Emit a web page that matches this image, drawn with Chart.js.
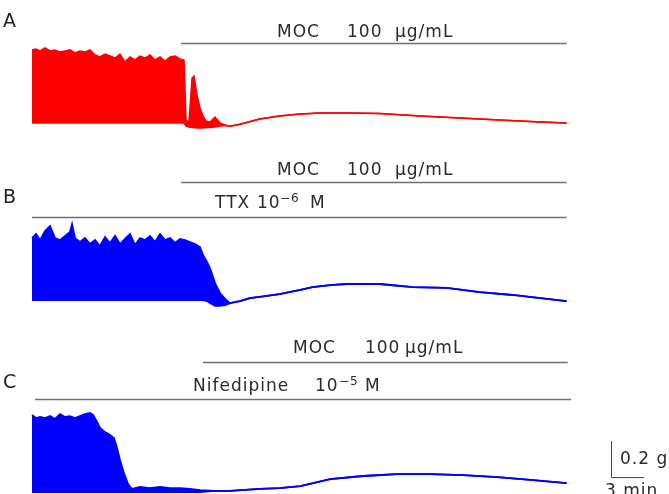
<!DOCTYPE html>
<html>
<head>
<meta charset="utf-8">
<script src="https://cdn.jsdelivr.net/npm/chart.js@4/dist/chart.umd.min.js"></script>
<style>
  body { margin: 0; background: #fff; }
  #wrap { position: relative; width: 669px; height: 494px; overflow: hidden; }
  #wrap canvas { position: absolute; left: 0; }
</style>
</head>
<body>
<div id="wrap">
  <canvas id="panelA" width="669" height="140" style="top:0px"></canvas>
  <canvas id="panelB" width="669" height="180" style="top:140px"></canvas>
  <canvas id="panelC" width="669" height="174" style="top:320px"></canvas>
</div>
<script>
// time in minutes, tension in g above the resting baseline

// A: MOC alone
const aTime = [0, 0.36, 0.73, 1.18, 1.64, 2.09, 2.55, 3.0, 3.45, 3.91, 4.36, 4.82, 5.27, 5.73, 6.18, 6.64, 7.09, 7.55, 8.0, 8.45,
  8.91, 9.36, 9.82, 10.27, 10.73, 11.18, 11.64, 12.09, 12.55, 13.0, 13.45, 13.82, 14.0, 14.27, 14.55, 14.73, 15.0, 15.27, 15.55, 15.82,
  16.18, 16.64, 17.09, 17.55, 18.0, 18.9, 20.7, 22.5, 24.4, 26.2, 28.9, 31.6, 35.3, 38.9, 42.5, 46.2, 48.6];
const aUpper = [0.406, 0.411, 0.400, 0.417, 0.400, 0.406, 0.394, 0.400, 0.406, 0.389, 0.400, 0.394, 0.406, 0.378, 0.367, 0.383, 0.372, 0.361, 0.383, 0.339,
  0.367, 0.350, 0.372, 0.361, 0.378, 0.350, 0.367, 0.344, 0.367, 0.372, 0.356, 0.350, 0.017, 0.006, 0.250, 0.261, 0.156, 0.083, 0.039, 0.011,
  0.006, 0.033, 0, -0.011, -0.017, -0.006, 0.022, 0.039, 0.050, 0.056, 0.056, 0.053, 0.039, 0.028, 0.017, 0.006, 0];
const aLower = [0, 0, 0, 0, 0, 0, 0, 0, 0, 0, 0, 0, 0, 0, 0, 0, 0, 0, 0, 0,
  0, 0, 0, 0, 0, 0, 0, 0, 0, 0, 0, 0, -0.017, -0.022, -0.025, -0.025, -0.028, -0.028, -0.028, -0.025,
  -0.025, -0.022, -0.017, -0.014, -0.017, -0.006, 0.022, 0.039, 0.050, 0.056, 0.056, 0.053, 0.039, 0.028, 0.017, 0.006, 0];

// B: TTX 10^-6 M, then MOC
const bTime = [0, 0.36, 0.73, 1.18, 1.64, 2.09, 2.55, 3.0, 3.45, 3.64, 3.91, 4.36, 4.82, 5.27, 5.73, 6.18, 6.64, 7.09, 7.55, 8.0,
  8.45, 8.91, 9.36, 9.82, 10.27, 10.73, 11.18, 11.64, 12.09, 12.55, 13.0, 13.45, 13.91, 14.36, 14.82, 15.27, 15.55, 15.91, 16.18, 16.64,
  17.09, 17.55, 18.0, 18.9, 19.8, 21.2, 22.5, 24.4, 25.5, 27.1, 28.6, 31.6, 34.6, 37.7, 40.7, 43.7, 46.8, 48.6];
const bUpper = [0.344, 0.367, 0.333, 0.383, 0.411, 0.344, 0.333, 0.356, 0.378, 0.422, 0.344, 0.322, 0.344, 0.311, 0.333, 0.300, 0.350, 0.317, 0.356, 0.311,
  0.339, 0.367, 0.306, 0.344, 0.333, 0.356, 0.322, 0.367, 0.333, 0.344, 0.317, 0.339, 0.333, 0.322, 0.311, 0.294, 0.250, 0.211, 0.178, 0.094,
  0.039, 0.006, -0.017, -0.006, 0.011, 0.022, 0.033, 0.056, 0.072, 0.083, 0.089, 0.089, 0.072, 0.067, 0.044, 0.028, 0.006, -0.006];
const bLower = [0, 0, 0, 0, 0, 0, 0, 0, 0, 0, 0, 0, 0, 0, 0, 0, 0, 0, 0, 0,
  0, 0, 0, 0, 0, 0, 0, 0, 0, 0, 0, 0, 0, 0, 0, 0, 0, -0.006, -0.017, -0.033,
  -0.033, -0.028, -0.017, -0.006, 0.011, 0.022, 0.033, 0.056, 0.072, 0.083, 0.089, 0.089, 0.072, 0.067, 0.044, 0.028, 0.006, -0.006];

// C: nifedipine 10^-5 M, then MOC
const cTime = [0, 0.36, 0.73, 1.18, 1.64, 2.09, 2.55, 3.0, 3.45, 3.91, 4.36, 4.82, 5.27, 5.55, 5.91, 6.18, 6.64, 7.09, 7.45, 7.73,
  8.0, 8.36, 8.73, 9.09, 9.82, 10.73, 11.64, 12.55, 13.45, 14.36, 15.27, 16.6, 18.0, 20.7, 22.5, 24.4, 27.1, 30.1, 33.2, 36.2,
  39.2, 42.3, 45.3, 48.6];
const cUpper = [0.428, 0.411, 0.417, 0.411, 0.422, 0.406, 0.433, 0.417, 0.422, 0.411, 0.422, 0.433, 0.439, 0.428, 0.389, 0.356, 0.333, 0.317, 0.300, 0.244,
  0.178, 0.106, 0.044, 0.017, 0.028, 0.022, 0.028, 0.022, 0.022, 0.017, 0.011, 0.006, 0.006, 0.017, 0.022, 0.033, 0.072, 0.089, 0.100, 0.100,
  0.094, 0.083, 0.067, 0.050];
const cLower = [0, 0, 0, 0, 0, 0, 0, 0, 0, 0, 0, 0, 0, 0, 0, 0, 0, 0, 0, 0,
  0, 0, 0, 0, 0, 0, 0, 0, 0, 0, 0, 0.006, 0.006, 0.017, 0.022, 0.033, 0.072, 0.089, 0.100, 0.100,
  0.094, 0.083, 0.067, 0.050];

const X_MIN = -2.91, X_MAX = 57.91;
const TEXT_COLOR = '#2a2a2a';
const BAR_COLOR = '#707070';

const panels = [
  {
    canvas: 'panelA', color: '#ff0000', lineWidth: 1.5, yMin: -0.094, yMax: 0.683,
    time: aTime, upper: aUpper, lower: aLower,
    label: { text: 'A', t: -2.64, y: 0.533 },
    bars: [{ t0: 13.55, t1: 48.6, y: 0.444 }],
    texts: [
      { text: 'MOC', t: 22.27, y: 0.478 }, { text: '100', t: 28.64, y: 0.478 }, { text: 'μg/mL', t: 33.0, y: 0.478 }
    ]
  },
  {
    canvas: 'panelB', color: '#0000ff', lineWidth: 1.8, yMin: -0.111, yMax: 0.889,
    time: bTime, upper: bUpper, lower: bLower,
    label: { text: 'B', t: -2.64, y: 0.539 },
    bars: [{ t0: 13.55, t1: 48.6, y: 0.656 }, { t0: 0, t1: 48.6, y: 0.461 }],
    texts: [
      { text: 'MOC', t: 22.27, y: 0.694 }, { text: '100', t: 28.64, y: 0.694 }, { text: 'μg/mL', t: 33.0, y: 0.694 },
      { text: 'TTX', t: 16.64, y: 0.511 }, { text: '10', t: 20.45, y: 0.511 },
      { text: '−6', t: 22.55, y: 0.542, small: true }, { text: 'M', t: 25.27, y: 0.511 }
    ]
  },
  {
    canvas: 'panelC', color: '#0000ff', lineWidth: 1.8, yMin: -0.011, yMax: 0.956,
    time: cTime, upper: cUpper, lower: cLower,
    label: { text: 'C', t: -2.64, y: 0.578 },
    bars: [{ t0: 15.55, t1: 48.7, y: 0.722 }, { t0: 0.27, t1: 49.0, y: 0.517 }],
    texts: [
      { text: 'MOC', t: 23.73, y: 0.772 }, { text: '100', t: 30.27, y: 0.772 }, { text: 'μg/mL', t: 33.91, y: 0.772 },
      { text: 'Nifedipine', t: 14.64, y: 0.561 }, { text: '10', t: 25.73, y: 0.561 },
      { text: '−5', t: 27.91, y: 0.592, small: true }, { text: 'M', t: 30.27, y: 0.561 },
      { text: '0.2 g', t: 53.45, y: 0.156 }, { text: '3 min', t: 52.09, y: -0.024 }
    ],
    scaleBar: { t: 52.64, y: 0.083, dt: 3, dy: 0.2 }
  }
];

// draws treatment bars, labels and the calibration bar through the chart scales
const annotations = {
  id: 'annotations',
  afterDraw(chart, args, opts) {
    const p = opts.panel;
    const x = chart.scales.x, y = chart.scales.y;
    const ctx = chart.ctx;
    ctx.save();
    ctx.strokeStyle = BAR_COLOR;
    ctx.lineWidth = 1.5;
    p.bars.forEach(b => {
      const py = Math.round(y.getPixelForValue(b.y)) + 0.5;
      ctx.beginPath();
      ctx.moveTo(x.getPixelForValue(b.t0), py);
      ctx.lineTo(x.getPixelForValue(b.t1), py);
      ctx.stroke();
    });
    if (p.scaleBar) {
      const s = p.scaleBar;
      ctx.strokeStyle = '#444';
      ctx.lineWidth = 1;
      ctx.beginPath();
      ctx.moveTo(x.getPixelForValue(s.t) + 0.5, y.getPixelForValue(s.y + s.dy));
      ctx.lineTo(x.getPixelForValue(s.t) + 0.5, y.getPixelForValue(s.y) + 0.5);
      ctx.lineTo(x.getPixelForValue(s.t + s.dt), y.getPixelForValue(s.y) + 0.5);
      ctx.stroke();
    }
    ctx.fillStyle = TEXT_COLOR;
    ctx.textBaseline = 'alphabetic';
    ctx.textAlign = 'left';
    p.texts.forEach(t => {
      ctx.font = t.small ? '12px "DejaVu Sans"' : '17px "DejaVu Sans"';
      ctx.letterSpacing = '1px';
      ctx.fillText(t.text, x.getPixelForValue(t.t), y.getPixelForValue(t.y));
    });
    ctx.letterSpacing = '0px';
    ctx.font = '19px "DejaVu Sans"';
    ctx.fillStyle = '#222';
    ctx.fillText(p.label.text, x.getPixelForValue(p.label.t), y.getPixelForValue(p.label.y));
    ctx.restore();
  }
};

panels.forEach(p => {
  new Chart(document.getElementById(p.canvas), {
    type: 'line',
    data: {
      datasets: [
        {
          data: p.time.map((t, i) => ({ x: t, y: p.upper[i] })),
          borderColor: p.color,
          backgroundColor: p.color,
          borderWidth: p.lineWidth,
          pointRadius: 0,
          tension: 0,
          fill: '+1'
        },
        {
          data: p.time.map((t, i) => ({ x: t, y: p.lower[i] })),
          borderColor: p.color,
          borderWidth: p.lineWidth,
          pointRadius: 0,
          tension: 0,
          fill: false
        }
      ]
    },
    options: {
      responsive: false,
      animation: false,
      layout: { padding: 0 },
      scales: {
        x: { type: 'linear', min: X_MIN, max: X_MAX, display: false },
        y: { min: p.yMin, max: p.yMax, display: false }
      },
      plugins: {
        legend: { display: false },
        tooltip: { enabled: false },
        annotations: { panel: p }
      }
    },
    plugins: [annotations]
  });
});
</script>
</body>
</html>
